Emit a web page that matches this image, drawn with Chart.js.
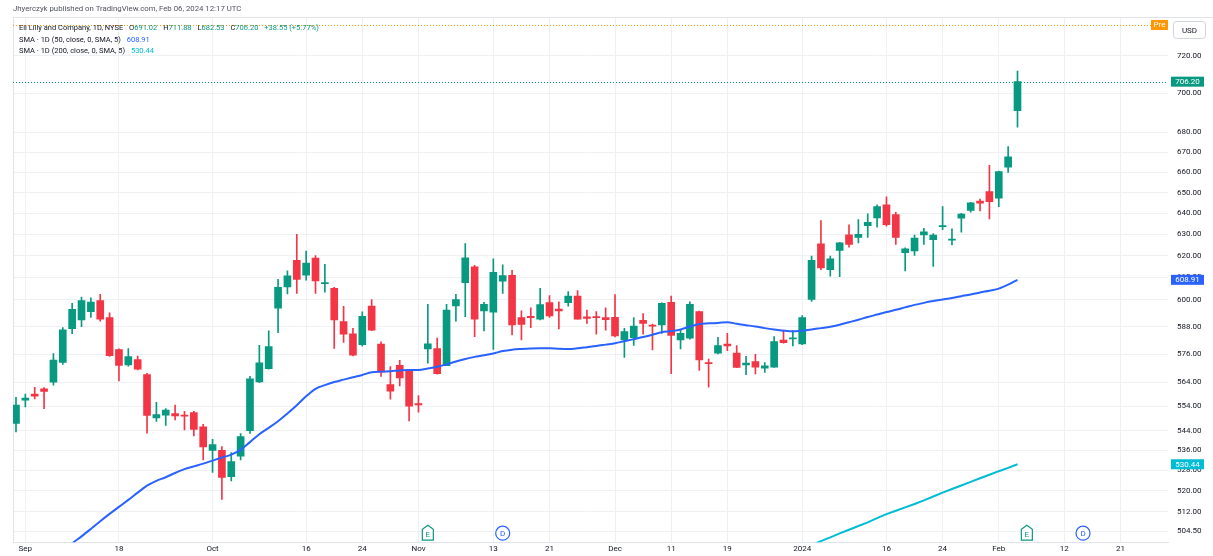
<!DOCTYPE html>
<html lang="en">
<head>
    <meta charset="UTF-8">
    <title>Eli Lilly and Company, 1D, NYSE</title>
    <script src="https://cdn.jsdelivr.net/npm/chart.js"></script>
    <style>
        body {
            margin: 0;
            background: #fff;
            font-family: Roboto, sans-serif;
        }

        .wrap {
            position: relative;
            width: 1213px;
            height: 556px;
        }

        .published {
            position: absolute;
            left: 13px;
            top: 4px;
            font-size: 7.8px;
            color: #50535e;
        }

        .legend {
            position: absolute;
            left: 19px;
            top: 22px;
            font-size: 7.5px;
            line-height: 11.5px;
            color: #131722;
        }

        .legend .g { color: #089981; }
        .legend .b { color: #2962ff; }
        .legend .c { color: #00bcd4; }
        .legend span { margin-left: 4px; }
    </style>
</head>
<body>
    <div class="wrap">
        <canvas id="chart" width="1213" height="556"></canvas>
        <div class="published">Jhyerczyk published on TradingView.com, Feb 06, 2024 12:17 UTC</div>
        <div class="legend">
            <div>Eli Lilly and Company, 1D, NYSE <span>O<b class="g" style="font-weight:normal">691.02</b></span> <span>H<b class="g" style="font-weight:normal">711.88</b></span> <span>L<b class="g" style="font-weight:normal">682.53</b></span> <span>C<b class="g" style="font-weight:normal">706.20</b></span> <span class="g">+38.55 (+5.77%)</span></div>
            <div>SMA · 1D (50, close, 0, SMA, 5) <span class="b">608.91</span></div>
            <div>SMA · 1D (200, close, 0, SMA, 5) <span class="c">530.44</span></div>
        </div>
    </div>

    <script>
        // daily bars, Aug 31 2023 (index 0) to Feb 5 2024 (index 107)
        const opens = [
            546.9, 556.5, 559.0, 561.2, 564.0, 572.4, 587.1, 590.9, 594.6, 599.5,
            592.0, 578.0, 571.4, 573.6, 567.2, 549.1, 550.3, 550.9, 550.2, 551.3,
            545.5, 536.0, 536.0, 525.5, 533.7, 543.9, 564.1, 569.8, 596.1, 605.7,
            617.8, 611.0, 618.9, 607.2, 605.0, 590.2, 584.8, 580.1, 597.1, 580.3,
            563.0, 571.2, 568.9, 555.1, 578.2, 578.4, 571.0, 597.1, 607.6, 614.9,
            594.9, 594.4, 608.3, 611.0, 592.0, 592.5, 591.3, 598.6, 595.7, 598.6,
            601.5, 592.3, 592.3, 591.9, 592.1, 582.1, 583.1, 590.7, 588.6, 588.7,
            598.8, 582.1, 582.9, 594.6, 572.2, 576.4, 580.3, 576.4, 571.4, 572.8,
            570.0, 570.4, 582.1, 582.6, 580.4, 600.0, 625.5, 613.6, 622.4, 629.7,
            628.5, 634.1, 637.8, 644.1, 639.4, 621.4, 622.2, 629.7, 627.5, 633.6,
            627.2, 637.7, 641.4, 645.8, 650.5, 647.3, 662.4, 691.02
        ];
        const highs = [
            557.7, 559.0, 561.9, 561.8, 576.2, 587.5, 598.3, 601.1, 600.8, 602.3,
            594.1, 578.3, 578.4, 575.2, 567.8, 555.6, 553.0, 554.4, 551.9, 551.9,
            546.5, 540.4, 537.5, 535.1, 542.8, 566.5, 579.8, 586.1, 609.1, 613.0,
            630.0, 622.2, 620.1, 616.0, 605.5, 597.0, 587.2, 594.5, 600.0, 581.3,
            570.7, 573.3, 569.0, 558.4, 597.8, 582.9, 597.8, 602.3, 625.7, 615.5,
            598.7, 618.6, 615.8, 613.3, 594.9, 596.3, 605.0, 601.8, 599.0, 603.6,
            604.0, 595.3, 594.6, 596.3, 602.2, 587.2, 592.0, 593.7, 589.1, 598.5,
            601.5, 586.4, 599.0, 594.8, 573.9, 583.3, 585.0, 579.7, 575.0, 575.9,
            572.4, 583.6, 586.4, 586.1, 592.8, 619.8, 636.5, 619.8, 626.2, 634.5,
            637.0, 639.7, 644.1, 647.9, 640.5, 623.7, 629.6, 632.8, 630.4, 643.2,
            632.6, 640.0, 645.3, 646.8, 663.4, 660.5, 672.7, 711.88
        ];
        const lows = [
            543.4, 553.7, 557.0, 553.0, 562.8, 571.6, 584.9, 587.9, 592.0, 590.4,
            575.0, 564.6, 570.8, 569.2, 542.9, 547.7, 546.1, 548.3, 544.2, 541.8,
            532.2, 527.2, 516.7, 523.9, 532.2, 542.8, 563.8, 569.5, 585.3, 602.5,
            602.8, 608.8, 602.8, 603.3, 578.5, 581.1, 575.2, 579.4, 586.2, 566.5,
            556.9, 562.5, 547.9, 551.5, 572.1, 567.4, 571.0, 590.4, 592.4, 583.6,
            586.1, 578.0, 602.8, 584.3, 582.1, 587.5, 590.9, 592.0, 586.9, 597.0,
            591.2, 589.4, 584.6, 586.4, 583.4, 574.6, 579.7, 584.7, 577.8, 585.0,
            567.6, 578.2, 582.5, 569.0, 561.9, 576.1, 577.5, 570.2, 567.2, 567.5,
            568.2, 570.3, 580.7, 579.5, 580.1, 599.2, 613.5, 610.6, 610.3, 624.0,
            626.0, 628.5, 633.4, 633.8, 625.2, 613.0, 620.1, 625.2, 615.0, 632.2,
            625.0, 631.0, 640.5, 641.1, 637.3, 643.2, 659.8, 682.53
        ];
        const closes = [
            554.4, 557.4, 558.2, 560.1, 573.4, 586.6, 595.6, 599.5, 598.9, 591.3,
            575.3, 571.1, 574.9, 569.5, 550.2, 550.5, 552.4, 550.0, 549.9, 544.4,
            537.4, 538.3, 525.2, 531.5, 541.5, 565.4, 572.2, 579.2, 605.5, 610.7,
            609.1, 616.6, 608.4, 607.6, 590.9, 584.6, 575.5, 592.5, 586.4, 568.3,
            560.2, 565.8, 554.0, 554.5, 580.4, 567.6, 595.3, 600.0, 619.0, 591.2,
            597.8, 612.3, 610.8, 588.7, 588.9, 591.9, 597.7, 592.7, 594.9, 601.5,
            591.3, 591.6, 591.9, 591.0, 583.9, 585.8, 588.2, 589.4, 588.2, 598.3,
            584.1, 585.0, 597.8, 573.5, 571.9, 579.7, 579.5, 570.3, 572.1, 570.4,
            571.0, 581.4, 581.0, 583.0, 592.0, 617.8, 614.4, 618.6, 626.0, 625.2,
            630.0, 635.7, 643.2, 634.6, 628.5, 623.2, 628.2, 631.2, 629.6, 634.1,
            627.7, 639.6, 645.0, 644.9, 645.6, 660.3, 667.65, 706.20
        ];
        const sma50 = [
            483.6, 486.5, 489.1, 492.0, 494.6, 497.2, 500.0, 502.6, 505.4, 508.3,
            511.1, 513.8, 516.5, 519.3, 522.0, 523.9, 525.3, 527.0, 528.5, 529.6,
            530.7, 531.9, 533.1, 534.3, 536.2, 539.3, 542.5, 545.1, 547.8, 551.0,
            554.4, 558.1, 561.2, 562.8, 564.1, 565.1, 566.1, 567.1, 568.2, 568.5,
            568.7, 569.0, 569.2, 569.2, 569.8, 570.6, 571.6, 572.8, 573.9, 574.8,
            575.5, 576.3, 577.3, 577.9, 578.2, 578.4, 578.5, 578.5, 578.3, 578.2,
            578.5, 579.0, 579.5, 580.1, 580.7, 581.6, 582.5, 583.4, 584.4, 585.5,
            586.0, 586.7, 588.0, 589.1, 589.4, 589.6, 589.9, 589.2, 588.6, 588.0,
            587.3, 586.7, 586.2, 585.9, 586.2, 586.7, 587.3, 587.9, 588.8, 589.9,
            591.0, 592.2, 593.3, 594.4, 595.4, 596.5, 597.6, 598.5, 599.3, 600.0,
            600.7, 601.5, 602.3, 603.2, 604.0, 604.9, 606.7, 608.91
        ];
        // only the last bars of the 200-day average reach the visible range
        const sma200Start = 84;
        const sma200 = [
            498.0, 499.4, 500.8, 502.2, 503.7, 505.1, 506.5, 507.9, 509.5, 511.0,
            512.3, 513.6, 514.9, 516.3, 517.8, 519.3, 520.7, 522.1, 523.5, 524.9,
            526.3, 527.7, 529.0, 530.44
        ];

        const timeTicks = [1, 11, 21, 31, 37, 43, 51, 57, 64, 70, 76, 84, 93, 99, 105, 112, 118];
        const timeLabels = ['Sep', '18', 'Oct', '16', '24', 'Nov', '13', '21', 'Dec', '11', '19', '2024', '16', '24', 'Feb', '12', '21'];
        const priceTicks = [720, 700, 680, 670, 660, 650, 640, 630, 620, 610, 600, 588, 576, 564, 554, 544, 536, 528, 520, 512, 504.5];

        const earnings = [44, 108];
        const dividends = [52, 114];
        const prePrice = 736.8;

        const UP = '#089981';
        const DOWN = '#f23645';
        const BLUE = '#2962ff';
        const CYAN = '#00bcd4';
        const GRID = '#eef0f3';

        const colors = closes.map((c, i) => c >= opens[i] ? UP : DOWN);
        const wicks = lows.map((l, i) => ({ x: i, y: [l, highs[i]] }));
        const bodies = opens.map((o, i) => ({ x: i, y: [o, closes[i]] }));
        const sma50Points = sma50.map((v, i) => ({ x: i, y: v }));
        const sma200Points = sma200.map((v, i) => ({ x: sma200Start + i, y: v }));

        function box(ctx, x, y, w, h, fill, text, color) {
            ctx.fillStyle = fill;
            ctx.fillRect(x, y, w, h);
            ctx.fillStyle = color;
            ctx.textAlign = 'center';
            ctx.textBaseline = 'middle';
            ctx.fillText(text, x + w / 2, y + h / 2 + 0.5);
        }

        const extras = {
            id: 'extras',
            beforeDatasetsDraw(chart) {
                const { ctx, chartArea: a, scales: { y } } = chart;
                ctx.save();
                ctx.strokeStyle = '#e0e3eb';
                ctx.lineWidth = 1;
                ctx.beginPath();
                ctx.moveTo(a.left + 0.5, a.bottom);
                ctx.lineTo(a.left + 0.5, a.top + 0.5);
                ctx.lineTo(chart.width, a.top + 0.5);
                ctx.stroke();

                ctx.setLineDash([1, 2]);
                ctx.strokeStyle = '#ff9800';
                let py = Math.round(y.getPixelForValue(prePrice)) + 0.5;
                ctx.beginPath();
                ctx.moveTo(a.left, py);
                ctx.lineTo(a.right - 17, py);
                ctx.stroke();

                ctx.strokeStyle = UP;
                py = Math.round(y.getPixelForValue(closes[closes.length - 1])) + 0.5;
                ctx.beginPath();
                ctx.moveTo(a.left, py);
                ctx.lineTo(a.right, py);
                ctx.stroke();
                ctx.restore();
            },
            afterDraw(chart) {
                const { ctx, chartArea: a, scales: { x, y } } = chart;
                ctx.save();
                ctx.font = '8px Roboto';

                // pre-market tag and currency button
                const pre = y.getPixelForValue(prePrice);
                box(ctx, a.right - 17, pre - 5, 17, 10, '#ff9800', 'Pre', '#fff');
                ctx.strokeStyle = '#d1d4dc';
                ctx.beginPath();
                ctx.roundRect(1173.5, 21.5, 32, 17, 3);
                ctx.fillStyle = '#fff';
                ctx.fill();
                ctx.stroke();
                ctx.fillStyle = '#131722';
                ctx.textAlign = 'center';
                ctx.textBaseline = 'middle';
                ctx.fillText('USD', 1189.5, 30.5);

                // last values on the price scale
                const tags = [
                    [closes[closes.length - 1], UP],
                    [sma50[sma50.length - 1], BLUE],
                    [sma200[sma200.length - 1], CYAN]
                ];
                tags.forEach(([v, c]) => {
                    const py = y.getPixelForValue(v);
                    box(ctx, a.right + 3, py - 5, 33, 10, c, v.toFixed(2), '#fff');
                });

                // earnings and dividend markers
                const my = a.bottom - 9;
                ctx.lineWidth = 1.2;
                earnings.forEach(j => {
                    const px = x.getPixelForValue(j);
                    ctx.strokeStyle = UP;
                    ctx.fillStyle = '#fff';
                    ctx.beginPath();
                    ctx.moveTo(px, my - 8);
                    ctx.lineTo(px + 5.5, my - 4);
                    ctx.lineTo(px + 5.5, my + 7);
                    ctx.lineTo(px - 5.5, my + 7);
                    ctx.lineTo(px - 5.5, my - 4);
                    ctx.closePath();
                    ctx.fill();
                    ctx.stroke();
                    ctx.fillStyle = UP;
                    ctx.fillText('E', px, my + 1.5);
                });
                dividends.forEach(j => {
                    const px = x.getPixelForValue(j);
                    ctx.strokeStyle = BLUE;
                    ctx.fillStyle = '#fff';
                    ctx.beginPath();
                    ctx.arc(px, my, 7, 0, Math.PI * 2);
                    ctx.fill();
                    ctx.stroke();
                    ctx.fillStyle = BLUE;
                    ctx.fillText('D', px, my + 0.5);
                });
                ctx.restore();
            }
        };

        Chart.defaults.font.family = 'Roboto';

        new Chart(document.getElementById('chart'), {
            type: 'bar',
            data: {
                datasets: [
                    {
                        type: 'line',
                        label: 'SMA 50',
                        data: sma50Points,
                        borderColor: BLUE,
                        borderWidth: 2,
                        pointRadius: 0,
                        cubicInterpolationMode: 'monotone',
                        order: 0
                    },
                    {
                        type: 'line',
                        label: 'SMA 200',
                        data: sma200Points,
                        borderColor: CYAN,
                        borderWidth: 2,
                        pointRadius: 0,
                        order: 0
                    },
                    {
                        label: 'Body',
                        data: bodies,
                        backgroundColor: colors,
                        barThickness: 7,
                        minBarLength: 1,
                        grouped: false,
                        order: 1
                    },
                    {
                        label: 'Wick',
                        data: wicks,
                        backgroundColor: colors,
                        barThickness: 1,
                        grouped: false,
                        order: 2
                    }
                ]
            },
            options: {
                responsive: false,
                animation: false,
                devicePixelRatio: 1,
                layout: { padding: { left: 13, top: 17, right: 0, bottom: 0 } },
                plugins: {
                    legend: { display: false },
                    tooltip: { enabled: false }
                },
                scales: {
                    x: {
                        type: 'linear',
                        min: -0.32,
                        max: 123.08,
                        offset: false,
                        grid: { color: GRID, offset: false, drawTicks: false },
                        border: { color: '#e0e3eb' },
                        afterBuildTicks: s => { s.ticks = timeTicks.map(v => ({ value: v })); },
                        afterFit: s => { s.height = 11; },
                        ticks: {
                            autoSkip: false,
                            maxRotation: 0,
                            padding: 2,
                            color: '#131722',
                            font: { size: 8 },
                            callback: (v, i) => timeLabels[i]
                        }
                    },
                    y: {
                        type: 'logarithmic',
                        position: 'right',
                        min: 500.4,
                        max: 741.2,
                        grid: { color: GRID, drawTicks: false },
                        border: { display: false },
                        afterBuildTicks: s => { s.ticks = priceTicks.map(v => ({ value: v })); },
                        afterFit: s => { s.width = 45; },
                        ticks: {
                            autoSkip: false,
                            padding: 9,
                            color: '#131722',
                            font: { size: 8 },
                            callback: v => Number(v).toFixed(2)
                        }
                    }
                }
            },
            plugins: [extras]
        });
    </script>
</body>
</html>
